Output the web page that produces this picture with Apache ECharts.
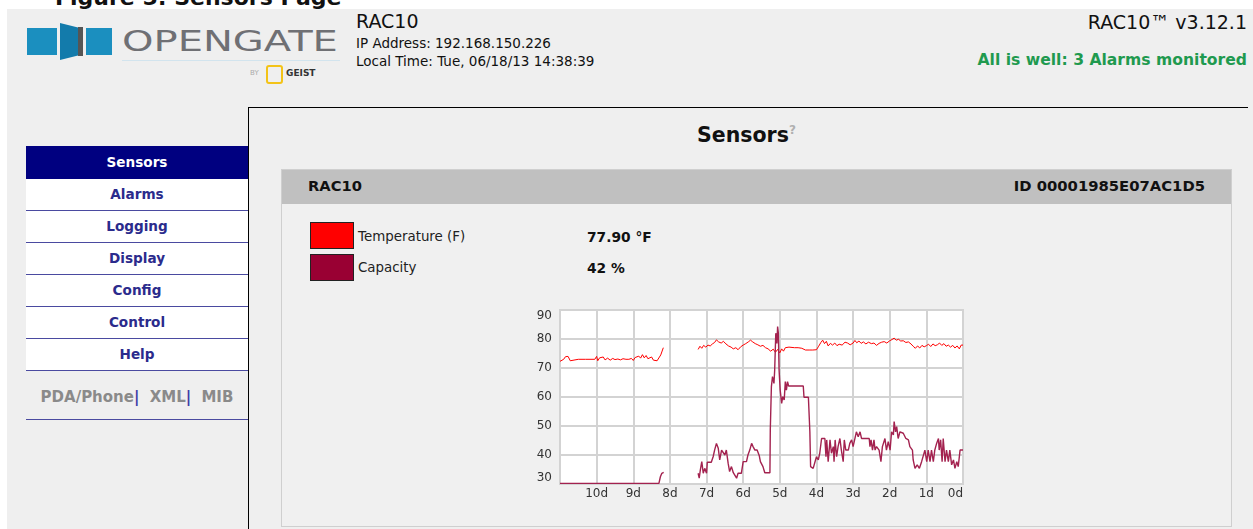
<!DOCTYPE html>
<html>
<head>
<meta charset="utf-8">
<title>Sensors</title>
<script src="https://cdn.jsdelivr.net/npm/echarts@6.0.0/dist/echarts.min.js"></script>
<style>
  html, body { margin: 0; padding: 0; background: #fff; width: 1253px; height: 529px; overflow: hidden; }
  body { position: relative; font-family: "DejaVu Sans", Verdana, sans-serif; color: #111; }
  .abs { position: absolute; white-space: nowrap; }
  #page { position: absolute; left: 7px; top: 9px; right: 0; bottom: 0; background: #efefef; }
  .nav { position: absolute; left: 26px; width: 222px; height: 31px; line-height: 31px; text-align: center;
         font-weight: bold; font-size: 13.6px; color: #2b2b8c; background: #fff; border-bottom: 1px solid #4a4aa0; }
  .nav.on { background: #000080; color: #fff; border-bottom: none; }
</style>
</head>
<body>
<div id="page"></div>
<div class="abs" style="left:55px;top:-13px;font-size:22px;line-height:22px;font-weight:bold;color:#111;">Figure 5: Sensors Page</div>

<!-- logo -->
<div class="abs" style="left:27px;top:28px;width:30px;height:27px;background:#1b8fbf;"></div>
<div class="abs" style="left:60px;top:23px;width:18px;height:37px;background:#137bab;clip-path:polygon(0 0,100% 12%,100% 88%,0 100%);"></div>
<div class="abs" style="left:78px;top:27px;width:5px;height:29px;background:#555;"></div>
<div class="abs" style="left:86px;top:28px;width:26px;height:27px;background:#1b8fbf;"></div>
<div class="abs" style="left:122px;top:26px;font-size:29px;line-height:30px;color:#6f7074;transform:scaleX(1.38);transform-origin:left;">OPENGATE</div>
<div class="abs" style="left:122px;top:60px;width:218px;height:1px;background:#d2e4ee;"></div>
<div class="abs" style="left:250px;top:69px;font-size:7px;color:#aaa;">BY</div>
<div class="abs" style="left:266px;top:65px;width:13px;height:15px;border:2px solid #f3c318;border-radius:3px;"></div>
<div class="abs" style="left:286px;top:68px;font-size:9px;font-weight:bold;color:#333;">GEIST</div>

<!-- header text -->
<div class="abs" style="left:356px;top:11px;font-size:19px;line-height:20px;">RAC10</div>
<div class="abs" style="left:356px;top:35px;font-size:13.5px;line-height:16px;">IP Address: 192.168.150.226</div>
<div class="abs" style="left:356px;top:53px;font-size:13.5px;line-height:16px;">Local Time: Tue, 06/18/13 14:38:39</div>
<div class="abs" style="right:6px;top:12px;font-size:19px;line-height:20px;">RAC10™ v3.12.1</div>
<div class="abs" style="right:6px;top:51px;font-size:15.6px;line-height:18px;font-weight:bold;color:#1f9a4f;">All is well: 3 Alarms monitored</div>

<!-- frame lines -->
<div class="abs" style="left:248px;top:107px;width:1000px;height:1px;background:#000;"></div>
<div class="abs" style="left:248px;top:107px;width:1px;height:422px;background:#000;"></div>

<!-- nav -->
<div class="nav on" style="top:146px;height:33px;line-height:33px;">Sensors</div>
<div class="nav" style="top:179px;">Alarms</div>
<div class="nav" style="top:211px;">Logging</div>
<div class="nav" style="top:243px;">Display</div>
<div class="nav" style="top:275px;">Config</div>
<div class="nav" style="top:307px;">Control</div>
<div class="nav" style="top:339px;">Help</div>
<div class="abs" style="left:26px;width:222px;top:388px;text-align:center;font-size:15px;line-height:18px;font-weight:bold;color:#8a8a8a;word-spacing:5px;">PDA/Phone<span style="color:#3c3ca6;">|</span> XML<span style="color:#3c3ca6;">|</span> MIB</div>
<div class="abs" style="left:26px;top:419px;width:222px;height:1px;background:#4a4aa0;"></div>

<!-- main -->
<div class="abs" style="left:697px;top:118px;font-size:20.5px;line-height:24px;font-weight:bold;">Sensors<sup style="font-size:12px;color:#b0b0b0;font-weight:bold;">?</sup></div>

<div class="abs" style="left:281px;top:169px;width:949px;height:356px;border:1px solid #cfcfcf;background:#f0f0f0;"></div>
<div class="abs" style="left:282px;top:170px;width:949px;height:34px;background:#c0c0c0;"></div>
<div class="abs" style="left:308px;top:177px;font-size:14.7px;line-height:18px;font-weight:bold;">RAC10</div>
<div class="abs" style="right:48px;top:177px;font-size:14.8px;line-height:18px;font-weight:bold;">ID 00001985E07AC1D5</div>

<div class="abs" style="left:310px;top:222px;width:42px;height:25px;border:1px solid #222;background:#ff0000;"></div>
<div class="abs" style="left:310px;top:254px;width:42px;height:25px;border:1px solid #222;background:#990033;"></div>
<div class="abs" style="left:358px;top:228px;font-size:13.4px;line-height:18px;color:#222;">Temperature (F)</div>
<div class="abs" style="left:358px;top:259px;font-size:13.4px;line-height:18px;color:#222;">Capacity</div>
<div class="abs" style="left:587px;top:228px;font-size:13.8px;line-height:18px;font-weight:bold;">77.90 °F</div>
<div class="abs" style="left:587px;top:259px;font-size:13.8px;line-height:18px;font-weight:bold;">42 %</div>

<div id="chart" class="abs" style="left:520px;top:300px;width:460px;height:210px;"></div>

<script>
// days ago (negative) -> reading; null marks the logging gap
const tempDays = [
  -11.0, -10.95, -10.9, -10.85, -10.78, -10.72, -10.68, -10.5, -10.3, -10.05, -10.0, -9.97, -9.92, -9.87,
  -9.82, -9.77, -9.7, -9.63, -9.56, -9.5, -9.42, -9.35, -9.28, -9.2, -9.12, -9.05, -9.0, -8.95, -8.9,
  -8.85, -8.8, -8.75, -8.7, -8.65, -8.6, -8.55, -8.5, -8.45, -8.4, -8.35, -8.3, -8.25, -8.18,
  -7.7,
  -7.23, -7.18, -7.13, -7.08, -7.02, -6.96, -6.9, -6.84, -6.78, -6.73, -6.67, -6.6, -6.54, -6.47, -6.4,
  -6.33, -6.27, -6.2, -6.14, -6.07, -6.0, -5.93, -5.86, -5.8, -5.74, -5.67, -5.6, -5.53, -5.46, -5.39,
  -5.32, -5.25, -5.18, -5.12, -5.06, -5.0, -4.95, -4.9, -4.85, -4.8, -4.75, -4.7, -4.6, -4.5, -4.4,
  -4.3, -4.2, -4.1, -4.0, -3.94, -3.88, -3.83, -3.78, -3.73, -3.68, -3.62, -3.56, -3.5, -3.44, -3.38,
  -3.3, -3.22, -3.15, -3.08, -3.0, -2.95, -2.9, -2.84, -2.78, -2.72, -2.65, -2.58, -2.5, -2.43, -2.36,
  -2.29, -2.22, -2.15, -2.08, -2.0, -1.94, -1.88, -1.82, -1.76, -1.7, -1.63, -1.56, -1.49, -1.42, -1.36,
  -1.3, -1.24, -1.18, -1.12, -1.06, -1.0, -0.94, -0.88, -0.82, -0.76, -0.7, -0.64, -0.58, -0.52, -0.46,
  -0.4, -0.34, -0.28, -0.22, -0.16, -0.1, -0.05, 0
];
const tempValues = [
  72.3, 72.0, 73.0, 73.9, 74.0, 72.5, 73.0, 73.0, 73.0, 73.0, 74.0, 72.5, 73.5, 73.0,
  73.8, 72.8, 73.4, 72.7, 73.3, 72.9, 73.1, 72.8, 73.2, 73.0, 73.0, 73.3, 72.6, 73.6, 73.2,
  74.1, 73.4, 74.6, 73.5, 74.3, 73.2, 72.6, 73.8, 72.7, 73.3, 72.5, 72.4, 74.5, 77.0,
  null,
  76.4, 77.5, 76.8, 77.8, 77.2, 77.9, 77.6, 78.3, 78.8, 79.7, 79.0, 78.6, 79.2, 78.3, 77.6,
  77.2, 76.6, 77.0, 76.3, 77.3, 77.9, 78.4, 79.0, 79.6, 79.0, 78.4, 78.0, 77.5, 77.8, 77.0,
  76.6, 75.8, 76.5, 75.4, 76.4, 75.2, 76.6, 75.8, 77.0, 76.4, 77.2, 77.0, 77.0, 77.0, 76.8,
  76.2, 76.2, 76.2, 76.3, 77.5, 78.8, 79.6, 78.4, 79.2, 77.6, 78.5, 77.9, 78.6, 77.7, 78.2,
  77.9, 78.9, 78.6, 78.0, 78.6, 79.5, 78.7, 79.3, 78.5, 79.0, 78.3, 78.9, 78.4, 78.6, 77.8,
  78.5, 78.9, 79.1, 78.6, 79.4, 79.8, 80.3, 79.6, 79.9, 79.3, 79.4, 78.8, 79.0, 78.3, 77.5,
  76.8, 77.6, 76.9, 77.8, 77.3, 77.7, 78.2, 77.4, 78.3, 77.7, 78.0, 78.6, 77.8, 78.4, 77.5,
  77.9, 77.2, 77.8, 76.9, 77.6, 76.6, 77.9, 77.9
];

const capDays = [
  -11.0, -8.3, -8.26, -8.22, -8.17,
  -7.7,
  -7.23, -7.2, -7.17, -7.13, -7.09, -7.05, -7.0, -6.98, -6.87, -6.82, -6.78, -6.73, -6.68, -6.64,
  -6.59, -6.55, -6.5, -6.46, -6.41, -6.37, -6.32, -6.27, -6.23, -6.18, -6.14, -6.05, -6.0, -5.91,
  -5.87, -5.82, -5.77, -5.73, -5.68, -5.62, -5.56, -5.53, -5.46, -5.41, -5.27, -5.26, -5.23, -5.2,
  -5.16, -5.14, -5.11, -5.08, -5.06, -5.04, -5.02, -4.99, -4.95, -4.92, -4.88, -4.86, -4.85, -4.82,
  -4.79, -4.76, -4.36, -4.34, -4.22, -4.18, -4.16, -4.09, -4.04, -4.0, -3.95, -3.91, -3.86, -3.77,
  -3.74, -3.72, -3.68, -3.63, -3.59, -3.54, -3.52, -3.49, -3.45, -3.41, -3.36, -3.32, -3.27, -3.24,
  -3.2, -3.13, -3.09, -3.04, -3.0, -2.95, -2.91, -2.86, -2.81, -2.77, -2.68, -2.56, -2.54, -2.51,
  -2.47, -2.43, -2.4, -2.36, -2.29, -2.24, -2.2, -2.18, -2.13, -2.09, -2.04, -1.99, -1.95, -1.9,
  -1.88, -1.84, -1.81, -1.77, -1.72, -1.63, -1.56, -1.49, -1.45, -1.38, -1.36, -1.31, -1.25, -1.19,
  -1.13, -1.08, -1.04, -0.99, -0.95, -0.9, -0.86, -0.81, -0.77, -0.72, -0.67, -0.65, -0.61, -0.57,
  -0.54, -0.49, -0.45, -0.4, -0.36, -0.31, -0.26, -0.22, -0.17, -0.13, -0.08, 0
];
const capValues = [
  30.2, 30.2, 32.5, 33.7, 34.0,
  null,
  33.7, 32.0, 34.8, 37.7, 33.7, 35.4, 33.7, 37.5, 37.5, 39.4, 41.7, 44.0, 42.3, 38.3,
  41.7, 41.7, 40.0, 41.7, 37.1, 34.3, 36.0, 33.9, 33.7, 32.0, 33.7, 33.7, 37.7, 37.7,
  40.0, 41.7, 44.0, 42.9, 41.7, 41.7, 39.7, 37.7, 36.0, 33.9, 33.9, 48.6, 63.6, 67.0,
  64.7, 69.3, 82.0, 78.5, 84.3, 82.0, 69.3, 62.4, 57.8, 60.1, 59.0, 58.4, 65.3, 62.4,
  65.3, 63.8, 63.8, 59.9, 59.9, 48.0, 36.0, 35.4, 36.0, 39.4, 38.3, 40.6, 45.7, 45.7,
  39.4, 45.2, 37.7, 45.2, 40.6, 42.9, 37.7, 45.2, 39.4, 42.9, 45.7, 41.7, 37.7, 45.2,
  41.7, 41.7, 44.0, 45.2, 42.9, 42.9, 48.0, 46.3, 48.0, 45.7, 45.7, 45.7, 42.9, 45.2,
  41.7, 45.2, 41.7, 42.9, 41.7, 37.7, 42.9, 42.3, 45.7, 41.7, 44.6, 41.7, 48.0, 46.9,
  51.5, 48.0, 49.8, 45.7, 48.0, 47.5, 45.7, 45.2, 42.9, 41.7, 38.3, 35.4, 36.6, 35.4,
  37.7, 38.3, 41.7, 37.7, 41.7, 37.7, 41.7, 37.7, 41.7, 44.0, 45.7, 41.7, 45.2, 37.7,
  45.7, 37.7, 41.7, 37.7, 41.7, 36.6, 38.3, 35.4, 37.7, 36.0, 41.7, 41.7
];

const dayMin = -11;
const dayMax = 0;
const valMin = 30;
const valMax = 90;

const chart = echarts.init(document.getElementById("chart"));
const gridColor = "#d3d3d3";
const labelStyle = { color: "#333", fontSize: 12, fontFamily: "DejaVu Sans" };

chart.setOption({
  animation: false,
  grid: {
    left: 40, right: 17, top: 10, bottom: 26,
    show: true, backgroundColor: "#fff", borderColor: gridColor, borderWidth: 2
  },
  xAxis: {
    type: "value",
    min: dayMin,
    max: dayMax,
    interval: 1,
    axisLine: { show: false },
    axisTick: { show: false },
    splitLine: { lineStyle: { color: gridColor, width: 2 } },
    axisLabel: {
      ...labelStyle,
      margin: 4,
      showMinLabel: false,
      alignMaxLabel: "right",
      formatter: v => `${Math.abs(v)}d`
    }
  },
  yAxis: {
    type: "value",
    min: valMin,
    max: valMax,
    interval: 10,
    axisLine: { show: false },
    axisTick: { show: false },
    splitLine: { lineStyle: { color: gridColor, width: 2 } },
    axisLabel: {
      ...labelStyle,
      margin: 8,
      verticalAlignMaxLabel: "top",
      verticalAlignMinLabel: "bottom"
    }
  },
  series: [
    {
      name: "Temperature (F)",
      type: "line",
      data: tempDays.map((d, i) => [d, tempValues[i]]),
      showSymbol: false,
      lineStyle: { color: "#ff0000", width: 1 },
      itemStyle: { color: "#ff0000" }
    },
    {
      name: "Capacity",
      type: "line",
      data: capDays.map((d, i) => [d, capValues[i]]),
      showSymbol: false,
      lineStyle: { color: "#a3224f", width: 1.4 },
      itemStyle: { color: "#a3224f" }
    }
  ]
});
</script>
</body>
</html>
